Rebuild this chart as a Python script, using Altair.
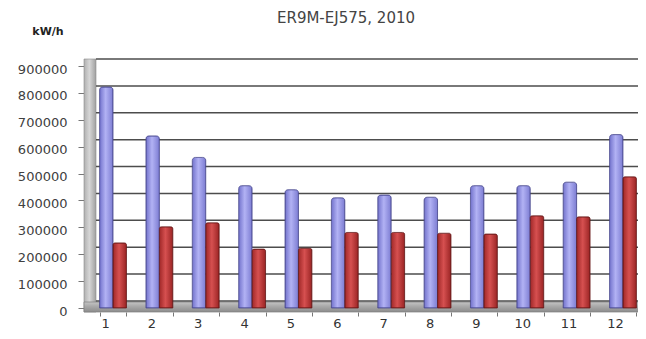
import altair as alt
import pandas as pd

months = [str(i) for i in range(1, 13)]
series_a = [822000, 640000, 560000, 455000, 440000, 410000, 420000, 412000, 455000, 455000, 468000, 645000]
series_b = [242000, 302000, 317000, 219000, 222000, 281000, 281000, 278000, 275000, 343000, 339000, 488000]
y_ticks = [0, 100000, 200000, 300000, 400000, 500000, 600000, 700000, 800000, 900000]
title_text = "ER9M-EJ575,  2010"
unit_text = "kW/h"

rows = []
for m, a, b in zip(months, series_a, series_b):
    rows.append({"month": m, "series": "A", "value": a})
    rows.append({"month": m, "series": "B", "value": b})
df = pd.DataFrame(rows)
grid_df = pd.DataFrame({"v": y_ticks})
one = pd.DataFrame({"k": [0]})

W, H = 540, 242
FONT = "DejaVu Sans"

xscale = alt.Scale(domain=months, paddingInner=0.42, paddingOuter=0.034)
yscale = alt.Scale(domain=[0, 900000], nice=False)
offscale = alt.Scale(domain=["A", "B"], paddingInner=0.0, paddingOuter=0.0)


def grad(c1, c2, c3, horizontal=True):
    return alt.Gradient(
        gradient="linear",
        stops=[alt.GradientStop(color=c1, offset=0),
               alt.GradientStop(color=c2, offset=0.45),
               alt.GradientStop(color=c3, offset=1)],
        x1=0, x2=1 if horizontal else 0, y1=0, y2=0 if horizontal else 1,
    )


x_axis = alt.Axis(
    title=None, labelAngle=0, labelFont=FONT, labelFontSize=13, labelColor="#333333",
    tickSize=4, tickColor="#777777", tickBand="extent", tickOffset=-8, labelOffset=-8,
    labelPadding=1, domain=False, offset=4,
)
y_axis = alt.Axis(
    values=y_ticks, format="d", title=None,
    labelFont=FONT, labelFontSize=13, labelColor="#404040", labelOffset=3,
    tickSize=6, tickColor="#777777", labelPadding=11, domain=False, grid=False, offset=14,
)

wall = alt.Chart(one).mark_rect(
    color=grad("#b0b0b0", "#d6d6d6", "#a0a0a0"), stroke="#8a8a8a", strokeWidth=0.6
).encode(x=alt.value(-14), x2=alt.value(-2), y=alt.value(-7), y2=alt.value(H + 4))

floor = alt.Chart(one).mark_rect(
    color=grad("#c4c4c4", "#a8a8a8", "#8c8c8c", horizontal=False), stroke="#808080", strokeWidth=0.7
).encode(x=alt.value(-14), x2=alt.value(W + 2), y=alt.value(H - 6), y2=alt.value(H + 4))

grid = alt.Chart(grid_df).mark_rule(color="#4d4d4d", strokeWidth=1.5, yOffset=-7).encode(
    y=alt.Y("v:Q", scale=yscale, axis=y_axis),
    x=alt.value(-2),
    x2=alt.value(W + 2),
)

title = alt.Chart(one).mark_text(
    text=title_text, font=FONT, fontSize=15, color="#444444", align="center", baseline="middle"
).encode(x=alt.value(248), y=alt.value(-48))

unit = alt.Chart(one).mark_text(
    text=unit_text, font=FONT, fontSize=11, fontWeight="bold", color="#222222",
    align="center", baseline="middle"
).encode(x=alt.value(-50), y=alt.value(-34))

bars_a = alt.Chart(df).transform_filter(alt.datum.series == "A").mark_bar(
    color=grad("#7272cc", "#b2b2f4", "#7c7cd2"), stroke="#4a4a90", strokeWidth=0.8,
    cornerRadiusTopLeft=3, cornerRadiusTopRight=3,
).encode(
    x=alt.X("month:N", scale=xscale, axis=x_axis, sort=months),
    xOffset=alt.XOffset("series:N", scale=offscale),
    y=alt.Y("value:Q", scale=yscale, axis=y_axis),
)

bars_b = alt.Chart(df).transform_filter(alt.datum.series == "B").mark_bar(
    color=grad("#a02828", "#d65050", "#9a2424"), stroke="#6a1a1a", strokeWidth=0.8,
    cornerRadiusTopLeft=2, cornerRadiusTopRight=2,
).encode(
    x=alt.X("month:N", scale=xscale, axis=x_axis, sort=months),
    xOffset=alt.XOffset("series:N", scale=offscale),
    y=alt.Y("value:Q", scale=yscale, axis=y_axis),
)

chart = alt.layer(wall, floor, grid, bars_a, bars_b, title, unit).properties(
    width=W, height=H,
    autosize=alt.AutoSizeParams(type="none"),
    padding={"left": 90, "top": 58, "right": 0, "bottom": 23},
).configure(background="white").configure_view(stroke=None)

chart.save("out.html", embed_options={"renderer": "svg", "actions": False})
